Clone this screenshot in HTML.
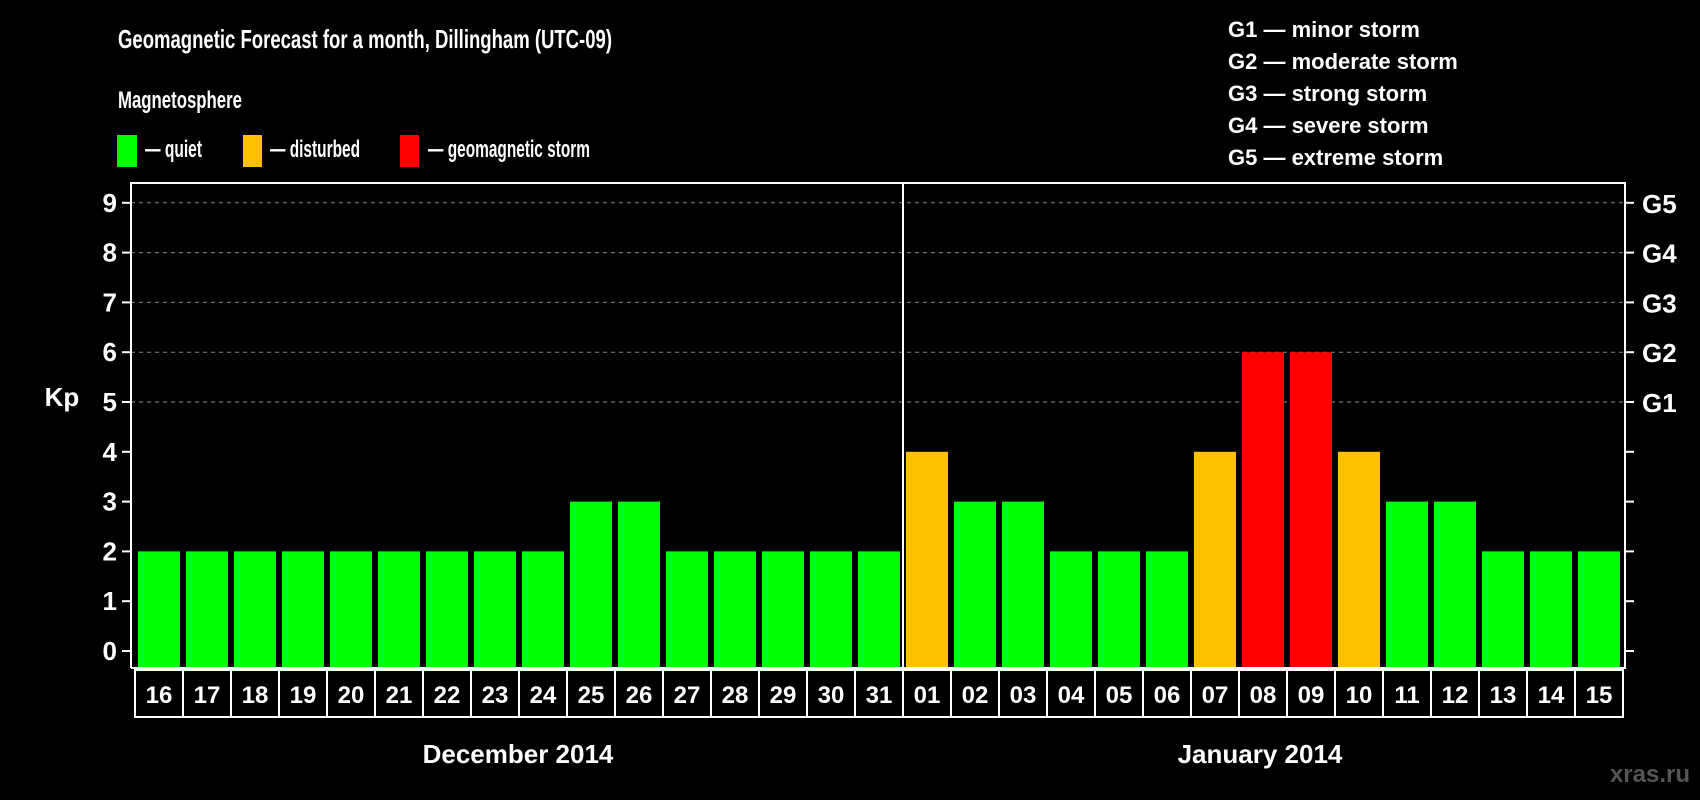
<!DOCTYPE html>
<html><head><meta charset="utf-8"><style>
html,body{margin:0;padding:0;background:#000;}
svg{display:block;font-family:"Liberation Sans",sans-serif;font-weight:bold;}
</style></head><body>
<svg id="c" width="1700" height="800" viewBox="0 0 1700 800">
<text x="118" y="48" fill="#fff" font-size="26" textLength="494" lengthAdjust="spacingAndGlyphs">Geomagnetic Forecast for a month, Dillingham (UTC-09)</text>
<text x="118" y="108" fill="#fff" font-size="24" textLength="124" lengthAdjust="spacingAndGlyphs">Magnetosphere</text>
<g><rect x="117" y="135" width="20" height="32" fill="#00ff00"/><text x="145" y="157" fill="#fff" font-size="24" textLength="57" lengthAdjust="spacingAndGlyphs">— quiet</text></g>
<g><rect x="243" y="135" width="19" height="32" fill="#ffc000"/><text x="270" y="157" fill="#fff" font-size="24" textLength="90" lengthAdjust="spacingAndGlyphs">— disturbed</text></g>
<g><rect x="400" y="135" width="19" height="32" fill="#ff0000"/><text x="428" y="157" fill="#fff" font-size="24" textLength="162" lengthAdjust="spacingAndGlyphs">— geomagnetic storm</text></g>
<g fill="#fff" font-size="22">
<text x="1228" y="37">G1 — minor storm</text>
<text x="1228" y="69">G2 — moderate storm</text>
<text x="1228" y="101">G3 — strong storm</text>
<text x="1228" y="133">G4 — severe storm</text>
<text x="1228" y="165">G5 — extreme storm</text>
</g>
<text x="62" y="406" fill="#fff" font-size="26" text-anchor="middle">Kp</text>
<text x="518" y="763" fill="#fff" font-size="26" text-anchor="middle">December 2014</text>
<text x="1260" y="763" fill="#fff" font-size="26" text-anchor="middle">January 2014</text>
<text x="1690" y="782" fill="#555" font-size="24" text-anchor="end">xras.ru</text>
<g id="plot"></g>
</svg>
<script>
const days = ["16","17","18","19","20","21","22","23","24","25","26","27","28","29","30","31","01","02","03","04","05","06","07","08","09","10","11","12","13","14","15"];
const kpValues = [2,2,2,2,2,2,2,2,2,3,3,2,2,2,2,2,4,3,3,2,2,2,4,6,6,4,3,3,2,2,2];
const yTicks = [0,1,2,3,4,5,6,7,8,9];
const gLabels = ["G1","G2","G3","G4","G5"];
const gLevels = [5,6,7,8,9];
const monthSplitIndex = 16;

const NS = "http://www.w3.org/2000/svg";
const g = document.getElementById("plot");
const X0 = 135, CW = 48, LEFT = 131, RIGHT = 1625, TOP = 183, BOT = 668;
function xs(i){ return X0 + CW * i; }
function ys(v){ return 651 - 49.8 * v; }
function mk(tag, attrs){ const e = document.createElementNS(NS, tag); for (const k in attrs) e.setAttribute(k, attrs[k]); g.appendChild(e); return e; }

gLevels.forEach(function(v){
  const l = mk("line", {x1: LEFT, x2: RIGHT, y1: ys(v), y2: ys(v), stroke: "#888", "stroke-dasharray": "4,4", "stroke-width": 1});
  
  
});
kpValues.forEach(function(v, i){
  const col = v >= 5 ? "#ff0000" : (v >= 4 ? "#ffc000" : "#00ff00");
  const r = mk("rect", {x: xs(i) + 3, y: ys(v), width: 42, height: BOT - ys(v), fill: col});
  
  
  const c = mk("rect", {x: xs(i), y: 670, width: CW, height: 47, fill: "none", stroke: "#fff", "stroke-width": 2});
  
  
  const t = mk("text", {x: xs(i) + CW / 2, y: 703, fill: "#fff", "font-size": 24, "text-anchor": "middle"});
  t.textContent = days[i];
  
  
});
const frame = mk("path", {d: "M" + LEFT + " " + BOT + " V" + TOP + " H" + RIGHT + " V" + BOT + " H" + LEFT, fill: "none", stroke: "#fff", "stroke-width": 2});


const sep = mk("line", {x1: xs(monthSplitIndex), x2: xs(monthSplitIndex), y1: TOP, y2: BOT, stroke: "#fff", "stroke-width": 2});


yTicks.forEach(function(v){
  const a = mk("line", {x1: LEFT - 9, x2: LEFT, y1: ys(v), y2: ys(v), stroke: "#fff", "stroke-width": 2});
  
  
  const b = mk("line", {x1: RIGHT, x2: RIGHT + 9, y1: ys(v), y2: ys(v), stroke: "#fff", "stroke-width": 2});
  
  
  const t = mk("text", {x: 117, y: ys(v) + 9, fill: "#fff", "font-size": 26, "text-anchor": "end"});
  t.textContent = v;
  
  
});
gLevels.forEach(function(v, i){
  const t = mk("text", {x: 1642, y: ys(v) + 10, fill: "#fff", "font-size": 26});
  t.textContent = gLabels[i];
  
  
});
</script>
</body></html>
